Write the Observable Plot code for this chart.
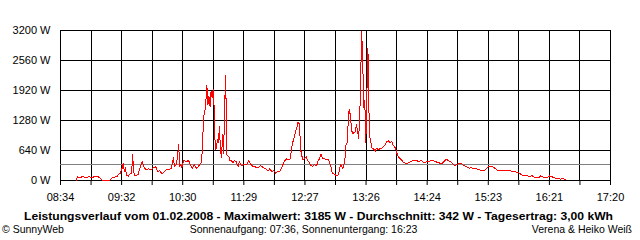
<!DOCTYPE html>
<html><head><meta charset="utf-8">
<script src="https://cdn.jsdelivr.net/npm/d3@7"></script>
<script src="https://cdn.jsdelivr.net/npm/@observablehq/plot@0.6"></script>
<style>
body{margin:0;background:#fff;width:640px;height:240px;overflow:hidden;font-family:"Liberation Sans",Arial,sans-serif;}
#chart svg{display:block;}
#footer{display:block;}
</style></head><body>
<div id="chart"></div>
<svg id="footer" width="640" height="35" font-family="Liberation Sans, Arial, sans-serif" font-size="11px"></svg>
<script>
const times = ["08:49","08:50","08:53","08:55","08:58","09:01","09:05","09:06","09:10","09:12","09:14","09:21","09:23","09:25","09:28","09:29","09:31","09:33","09:34","09:35","09:36","09:37","09:39","09:40","09:42","09:43","09:44","09:45","09:48","09:49","09:51","09:52","09:54","09:56","09:58","10:00","10:03","10:05","10:06","10:07","10:09","10:11","10:13","10:15","10:18","10:20","10:22","10:23","10:25","10:26","10:27","10:28","10:29","10:30","10:32","10:34","10:36","10:37","10:39","10:40","10:42","10:44","10:45","10:47","10:49","10:50","10:51","10:52","10:53","10:54","10:55","10:56","10:57","10:58","10:59","11:00","11:01","11:02","11:03","11:04","11:05","11:06","11:07","11:08","11:09","11:10","11:11","11:12","11:13","11:15","11:16","11:17","11:19","11:20","11:22","11:24","11:25","11:27","11:29","11:32","11:34","11:36","11:38","11:41","11:44","11:45","11:48","11:50","11:53","11:54","11:56","11:58","12:00","12:01","12:04","12:06","12:08","12:10","12:13","12:14","12:15","12:16","12:18","12:19","12:20","12:21","12:22","12:23","12:24","12:25","12:26","12:28","12:29","12:30","12:32","12:33","12:35","12:37","12:39","12:40","12:42","12:43","12:45","12:47","12:50","12:51","12:53","12:54","12:57","12:58","13:00","13:01","13:02","13:04","13:05","13:06","13:07","13:08","13:09","13:10","13:11","13:12","13:13","13:14","13:16","13:17","13:18","13:19","13:20","13:21","13:22","13:23","13:24","13:25","13:26","13:27","13:28","13:29","13:30","13:32","13:33","13:35","13:36","13:38","13:40","13:41","13:43","13:44","13:46","13:48","13:49","13:51","13:52","13:54","13:56","13:57","14:00","14:02","14:04","14:06","14:09","14:11","14:14","14:17","14:19","14:21","14:23","14:25","14:28","14:31","14:34","14:37","14:39","14:41","14:43","14:45","14:48","14:50","14:51","14:53","14:56","14:58","15:00","15:02","15:05","15:07","15:09","15:12","15:14","15:17","15:19","15:20","15:22","15:24","15:27","15:29","15:32","15:35","15:38","15:41","15:43","15:46","15:48","15:50","15:53","15:55","15:58","16:00","16:02","16:05","16:07","16:09","16:12","16:13","16:16","16:18","16:20","16:22","16:25","16:27","16:29","16:32","16:34","16:37"];
const watts = [0,78,64,85,64,78,64,85,78,50,0,0,50,70,85,120,150,265,370,190,275,120,85,135,155,550,190,105,120,190,335,405,275,225,250,225,275,300,230,190,215,140,180,230,240,265,480,300,335,550,760,300,350,275,440,405,420,405,300,250,335,265,275,335,390,905,1365,1460,1685,2020,1615,1790,1580,1915,1760,1935,1545,655,675,870,800,1150,655,480,975,585,1600,2240,550,510,420,440,370,420,405,290,405,320,335,335,420,350,300,285,285,320,275,250,205,250,190,215,155,180,205,300,405,460,440,480,690,800,975,1060,1120,1240,1245,975,620,510,440,480,510,440,390,335,300,335,315,400,480,565,460,460,440,405,265,155,120,100,120,265,335,250,335,440,760,800,1190,1510,1420,1190,1010,1010,1045,1190,1080,905,1225,2080,3185,2610,1545,1700,800,1830,2820,1470,905,690,690,620,690,655,690,690,725,745,830,845,800,830,760,705,565,510,440,390,370,370,405,425,425,405,425,385,390,405,420,420,390,370,370,405,455,425,385,335,315,335,370,350,315,300,265,275,250,250,230,215,205,230,275,300,300,265,220,220,220,205,215,190,190,180,155,120,105,105,85,100,70,60,60,105,70,70,70,100,70,50,50,30,35,30];
const xTickLabels = ["08:34","09:32","10:30","11:29","12:27","13:26","14:24","15:23","16:21","17:20"];
const yTicks = [0,640,1280,1920,2560,3200];
const average = 342;
const titleText = "Leistungsverlauf vom 01.02.2008 - Maximalwert: 3185 W - Durchschnitt: 342 W - Tagesertrag: 3,00 kWh";
const copyrightText = "© SunnyWeb";
const sunText = "Sonnenaufgang: 07:36, Sonnenuntergang: 16:23";
const authorText = "Verena & Heiko Weiß";

const toMin = s => { const [h, m] = s.split(":").map(Number); return h * 60 + m; };
const data = times.map((s, i) => ({t: toMin(s), w: watts[i]}));
const x0 = toMin(xTickLabels[0]);
const x1 = toMin(xTickLabels[xTickLabels.length - 1]);
const nGrid = (xTickLabels.length - 1) * 2;
const step = (x1 - x0) / nGrid;
const gridTimes = d3.range(nGrid + 1).map(i => x0 + i * step);

const plot = Plot.plot({
  width: 640,
  height: 205,
  marginTop: 30,
  marginLeft: 60,
  marginRight: 30,
  marginBottom: 25,
  style: {fontFamily: "Liberation Sans, Arial, sans-serif", fontSize: "11px", color: "black", background: "white", overflow: "visible"},
  x: {
    domain: [x0, x1],
    ticks: gridTimes,
    tickSize: 5,
    tickPadding: 8,
    tickFormat: d => { const k = Math.round((d - x0) / step); return k % 2 === 0 ? xTickLabels[k / 2] : ""; },
    label: null
  },
  y: {
    domain: [0, 3200],
    ticks: yTicks,
    tickSize: 0,
    tickPadding: 10,
    tickFormat: d => d + " W",
    label: null
  },
  marks: [
    Plot.ruleY(yTicks, {stroke: "black", shapeRendering: "crispEdges"}),
    Plot.ruleX(gridTimes, {y1: 3200, y2: 0, stroke: "black", shapeRendering: "crispEdges"}),
    Plot.ruleY([average], {stroke: "#808080", shapeRendering: "crispEdges"}),
    Plot.line(data, {x: "t", y: "w", stroke: "#ff0000", strokeWidth: 1, shapeRendering: "crispEdges"})
  ]
});
document.getElementById("chart").appendChild(plot);

const f = d3.select("#footer");
f.append("text").attr("x", 318.5).attr("y", 15).attr("text-anchor", "middle").attr("font-weight", "bold")
  .attr("textLength", 589).attr("lengthAdjust", "spacingAndGlyphs").text(titleText);
const bottom = f.append("g").attr("font-size", "10.5px");
bottom.append("text").attr("x", 2).attr("y", 27.5).text(copyrightText);
bottom.append("text").attr("x", 303.5).attr("y", 27.5).attr("text-anchor", "middle").text(sunText);
bottom.append("text").attr("x", 632).attr("y", 27.5).attr("text-anchor", "end").text(authorText);
</script>
</body></html>
